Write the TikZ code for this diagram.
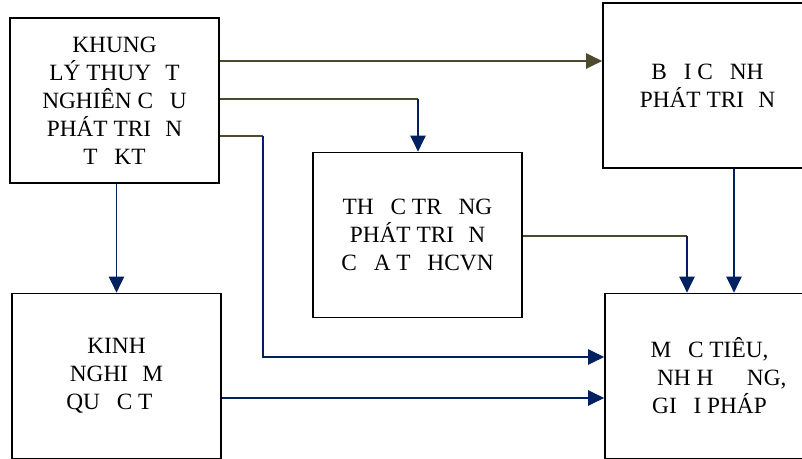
\documentclass[tikz,border=0pt]{standalone}
\usepackage{fontspec}
\setmainfont{Liberation Serif}
\usetikzlibrary{arrows.meta}
\definecolor{olivedk}{RGB}{78,74,46}
\definecolor{navyln}{RGB}{0,32,96}
\newcommand\gp[1][0.72em]{\makebox[#1]{}}

\begin{document}
\begin{tikzpicture}[x=0.75pt,y=-0.75pt,
  box/.style={draw=black, line width=1.3pt, minimum width=156.75pt, minimum height=123.75pt,
    align=center, inner sep=0pt, font=\fontsize{17.5}{21}\selectfont},
  olv/.style={draw=olivedk, line width=0.9pt},
  nvy/.style={draw=navyln, line width=0.9pt},
  tip/.style={-{Triangle[length=12pt,width=11.5pt]}}]
  \useasboundingbox (0,0) rectangle (802,459);
  \clip (0,0) rectangle (802,459);

  \node[box] (khung) at (114.5,100.5) {KHUNG\\ LÝ THUY\gp[0.61em]T\\ NGHIÊN C\gp U\\ PHÁT TRI\gp[0.61em]N\\ T\gp KT};
  \node[box] (bcanh) at (707.5,85.5) {B\gp I C\gp NH\\ PHÁT TRI\gp[0.61em]N};
  \node[box] (thuc) at (417.5,235) {TH\gp C TR\gp NG\\ PHÁT TRI\gp[0.61em]N\\ C\gp A T\gp HCVN};
  \node[box] (kinh) at (116.5,376) {KINH\\ NGHI\gp[0.61em]M\\ QU\gp C T\gp[0.61em]};
  \node[box] (muc) at (709.5,376) {M\gp C TIÊU,\\ \gp\gp[0.33em]NH H\gp\gp NG,\\ GI\gp I PHÁP};

  \coordinate (y1) at (0,61);
  \coordinate (k1) at (418,99);
  \coordinate (k2) at (263,136);
  \coordinate (k3) at (263,357);
  \coordinate (k4) at (687,236);
  \coordinate (k5) at (734,0);
  \coordinate (y2) at (0,398);

  \draw[olv,tip] (khung.east |- y1) -- (bcanh.west |- y1);
  \draw[olv] (khung.east |- k1) -- (k1);
  \draw[nvy,tip] (k1) -- (k1 |- thuc.north);
  \draw[olv] (khung.east |- k2) -- (k2);
  \draw[nvy,tip] (k2) -- (k3) -- (muc.west |- k3);
  \draw[nvy,tip] (kinh.north |- khung.south) -- (kinh.north);
  \draw[olv] (thuc.east |- k4) -- (k4);
  \draw[nvy,tip] (k4) -- (k4 |- muc.north);
  \draw[nvy,tip] (bcanh.south -| k5) -- (muc.north -| k5);
  \draw[nvy,tip] (kinh.east |- y2) -- (muc.west |- y2);
\end{tikzpicture}
\end{document}
